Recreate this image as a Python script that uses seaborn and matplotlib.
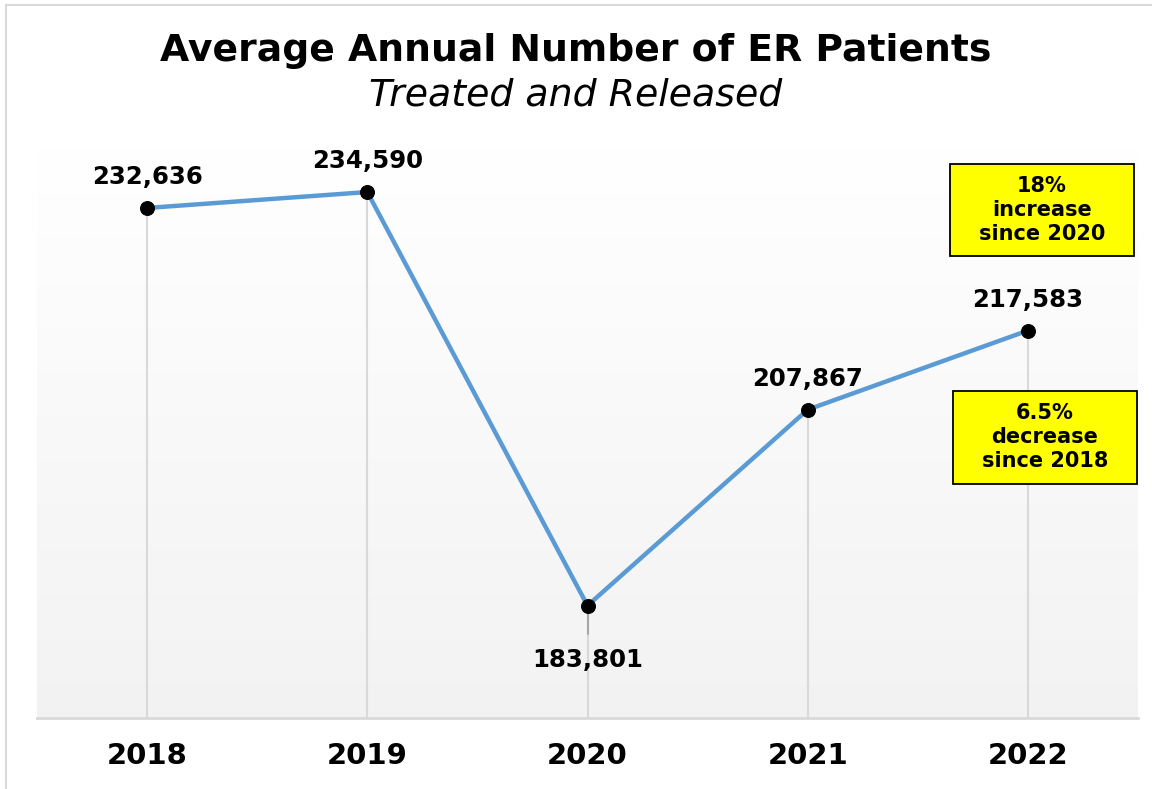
import matplotlib
matplotlib.use("Agg")
import matplotlib.pyplot as plt
import seaborn as sns
import numpy as np
import pandas as pd
from matplotlib.lines import Line2D
from matplotlib.patches import Rectangle

years = ["2018", "2019", "2020", "2021", "2022"]
patients = [232636, 234590, 183801, 207867, 217583]
note_increase = "18%\nincrease\nsince 2020"
note_decrease = "6.5%\ndecrease\nsince 2018"

df = pd.DataFrame({"year": years, "patients": patients})

sns.set_style("white")
plt.rcParams["font.family"] = ["DejaVu Sans"]
plt.rcParams["text.color"] = "black"
plt.rcParams["xtick.color"] = "black"

fig = plt.figure(figsize=(11.52, 7.89), dpi=100)
ax = fig.add_axes([37 / 1152, 1 - 718 / 789, (1138 - 37) / 1152, (718 - 148) / 789])

# gradient background, white at top to light gray at bottom
grad = np.linspace(1.0, 0.95, 256).reshape(-1, 1)
ax.imshow(np.dstack([grad, grad, grad]), extent=[0, 1, 0, 1], transform=ax.transAxes,
          aspect="auto", zorder=0)

ymin, ymax = 170000, 240000

# drop lines
ax.vlines(range(len(years)), ymin, df["patients"], color="#d9d9d9", lw=1.5, zorder=1)

sns.lineplot(data=df, x="year", y="patients", ax=ax, color="#5b9bd5", lw=3.2,
             marker="o", markersize=10, markerfacecolor="black",
             markeredgecolor="black", zorder=3, sort=False)

# leader for the 2020 label
i20 = years.index("2020")
ax.plot([i20, i20], [patients[i20], patients[i20] - 3500], color="#a6a6a6", lw=1.5, zorder=2)

for i, v in enumerate(patients):
    dy = -39 if years[i] == "2020" else 22
    ax.annotate(f"{v:,}", (i, v), xytext=(0, dy), textcoords="offset points",
                ha="center", va="center", fontsize=17.6, fontweight="bold", color="black")

ax.set_xlim(-0.5, len(years) - 0.5)
ax.set_ylim(ymin, ymax)
ax.set_yticks([])
ax.set_xlabel("")
ax.set_ylabel("")
ax.tick_params(axis="x", length=0, pad=17, labelsize=21, labelcolor="black")
for lab in ax.get_xticklabels():
    lab.set_fontweight("bold")
for s in ["top", "left", "right"]:
    ax.spines[s].set_visible(False)
ax.spines["bottom"].set_color("#d9d9d9")
ax.spines["bottom"].set_linewidth(2)

# title
fig.text(0.5, 1 - 51 / 789, "Average Annual Number of ER Patients", ha="center", va="center",
         fontsize=27.2, fontweight="bold", color="black")
fig.text(0.5, 1 - 96 / 789, "Treated and Released", ha="center", va="center",
         fontsize=27.3, style="italic", color="black")

# yellow note boxes
def note(x0, y0, x1, y1, txt):
    fig.patches.append(Rectangle((x0 / 1152, 1 - y1 / 789), (x1 - x0) / 1152, (y1 - y0) / 789,
                                 transform=fig.transFigure, facecolor="#ffff00",
                                 edgecolor="black", lw=1.3, zorder=5))
    fig.text((x0 + x1) / 2 / 1152, 1 - (y0 + y1) / 2 / 789, txt, ha="center", va="center",
             fontsize=15, fontweight="bold", linespacing=1.25, zorder=6, color="black")

note(950, 164, 1134, 256, note_increase)
note(953, 391, 1137, 484, note_decrease)

# outer frame (top and left only)
fig.add_artist(Line2D([6 / 1152, 1], [1 - 5 / 789, 1 - 5 / 789], transform=fig.transFigure,
                      color="#d9d9d9", lw=1.5))
fig.add_artist(Line2D([6 / 1152, 6 / 1152], [0, 1 - 5 / 789], transform=fig.transFigure,
                      color="#d9d9d9", lw=1.5))

fig.savefig("out.png", dpi=100)
